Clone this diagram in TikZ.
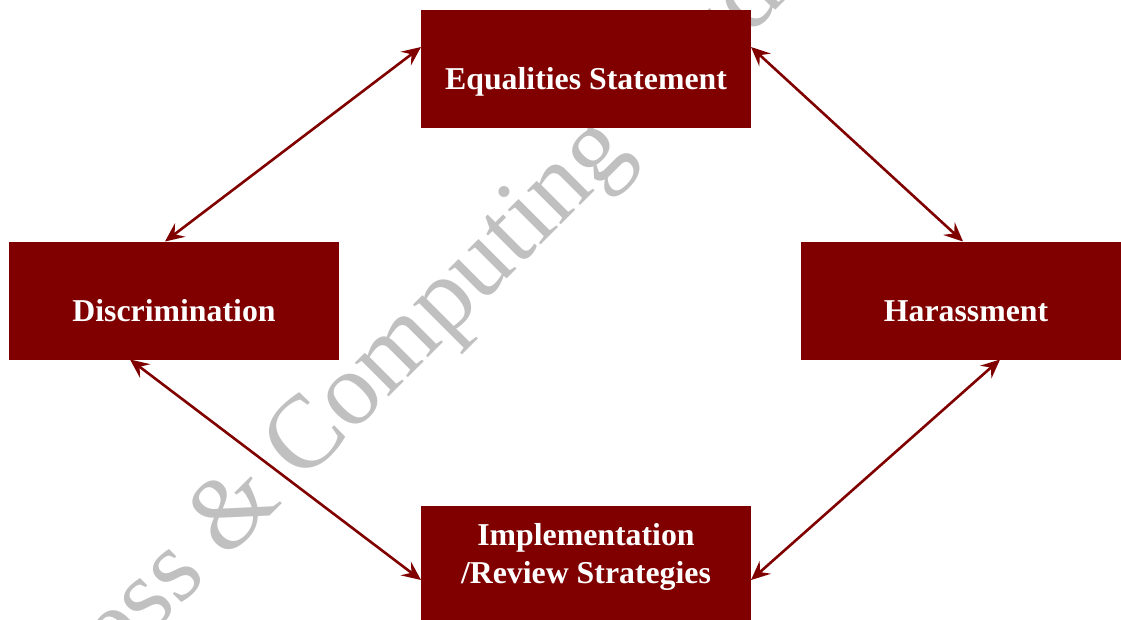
\documentclass[tikz,border=0pt]{standalone}
\usepackage{fontspec}
\setmainfont{Liberation Serif}
\usetikzlibrary{arrows.meta,calc}
\definecolor{maroon}{HTML}{800000}
\definecolor{wmgray}{HTML}{C0C0C0}
\begin{document}
\begin{tikzpicture}[x=1pt,y=-1pt,
 box/.style={draw=none, fill=maroon, minimum width=330pt, minimum height=118pt, inner sep=0pt, outer sep=0pt},
 lbl/.style={text=white, font=\fontsize{31.8}{38}\selectfont\bfseries, anchor=base, inner sep=0pt},
 tip/.tip={Stealth[length=19pt,width=17pt,inset=7pt]},
 link/.style={draw=maroon, line width=2.6pt, tip-tip},
 wm/.style={text=wmgray, font=\fontsize{104}{120}\selectfont, inner sep=0pt, transform shape}]
\useasboundingbox (0,0) rectangle (1121,619);
\clip (0,0) rectangle (1121,619);
\begin{scope}[shift={(302,484)}, rotate=45]
 \node[wm, anchor=base west] (wm1) at (0,0) {Computing Studies};
 \node[wm, anchor=base east] (wm2) at (-26,0) {Business \&};
\end{scope}
\node[box] (eq) at (586,69) {};
\node[box] (disc) at (174,300.5) {};
\node[box] (har) at (966,300.5) {};
\node[box] (impl) at (586,565) {};
\node[lbl] (eqt) at (586,89) {Equalities Statement};
\node[lbl] (disct) at (174,321) {Discrimination};
\node[lbl] (hart) at (966,321) {Harassment};
\node[lbl] (implt1) at (586,545) {Implementation};
\node[lbl] (implt2) at (586,583) {/Review Strategies};
\draw[link] ([xshift=-9pt]disc.north) -- ([yshift=22pt]eq.west);
\draw[link] ([yshift=22pt]eq.east) -- ([xshift=-3pt]har.north);
\draw[link] ([xshift=-44pt]disc.south) -- ([yshift=-15pt]impl.west);
\draw[link] ([xshift=34pt]har.south) -- ([yshift=-15pt]impl.east);
\end{tikzpicture}
\end{document}
